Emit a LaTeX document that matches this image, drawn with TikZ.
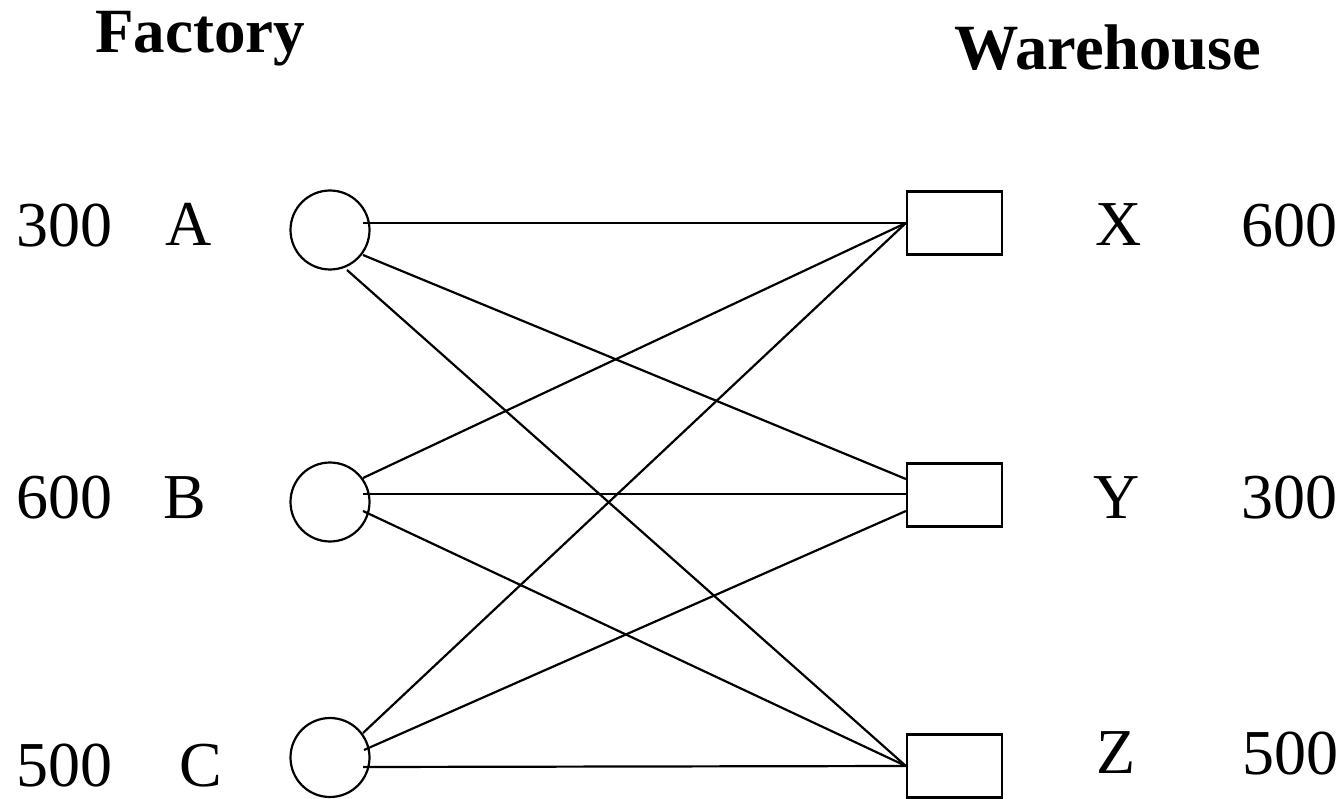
\documentclass[tikz,border=0pt]{standalone}
\usepackage{fontspec}
\setmainfont{Liberation Serif}
\usetikzlibrary{calc}
\begin{document}
\begin{tikzpicture}[x=1pt,y=-1pt,line width=2.2pt,
  fac/.style={circle,draw,minimum size=79pt,inner sep=0pt},
  wh/.style={rectangle,draw,minimum width=95pt,minimum height=63pt,inner sep=0pt},
  lab/.style={anchor=base,font=\fontsize{64}{64}\selectfont,inner sep=0pt},
  labw/.style={lab,anchor=base west},
  head/.style={anchor=base,font=\fontsize{63}{63}\selectfont\bfseries,inner sep=0pt}]
\useasboundingbox (0,0) rectangle (1343,799);
% headings
\node[head] (hf) at (200,53) {Factory};
\node[head,font=\fontsize{64.5}{64.5}\selectfont\bfseries] (hw) at (1108,70) {Warehouse};
% factories
\node[fac] (A) at (330,230) {};
\node[fac] (B) at (330,502) {};
\node[fac] (C) at (330,757.5) {};
% warehouses
\node[wh] (X) at (954.5,223) {};
\node[wh] (Y) at (954.5,495) {};
\node[wh] (Z) at (954.5,766) {};
% labels
\node[labw] (sa) at (15,247) {300};
\node[lab] (la) at (188.5,246) {A};
\node[labw] (sb) at (15,518) {600};
\node[lab] (lb) at (185,518) {B};
\node[labw,text depth=0pt] (sc) at (15,786) {500};
\node[lab,text depth=0pt] (lc) at (201,786) {C};
\node[lab] (lx) at (1118.5,246) {X};
\node[labw] (dx) at (1240,247) {600};
\node[lab] (ly) at (1117,518) {Y};
\node[labw] (dy) at (1240,518) {300};
\node[lab] (lz) at (1116.5,773) {Z};
\node[labw] (dz) at (1241,774) {500};
% connection points
\coordinate (aX) at ($(A.center)+(33,-7)$);
\coordinate (aY) at ($(A.center)+(33,25)$);
\coordinate (aZ) at ($(A.center)+(17,40)$);
\coordinate (bX) at ($(B.center)+(33,-24)$);
\coordinate (bY) at ($(B.center)+(33,-8)$);
\coordinate (bZ) at ($(B.center)+(33,9)$);
\coordinate (cX) at ($(C.center)+(33,-24.5)$);
\coordinate (cY) at ($(C.center)+(34,-7.5)$);
\coordinate (cZ) at ($(C.center)+(33,9.5)$);
\coordinate (yA) at ($(Y.west)+(0,-16)$);
\coordinate (yB) at ($(Y.west)+(0,-1)$);
\coordinate (yC) at ($(Y.west)+(0,16)$);
% connectors
\draw (aX) -- (X.west);
\draw (aY) -- (yA);
\draw (aZ) -- (Z.west);
\draw (bX) -- (X.west);
\draw (bY) -- (yB);
\draw (bZ) -- (Z.west);
\draw (cX) -- (X.west);
\draw (cY) -- (yC);
\draw (cZ) -- (Z.west);
\end{tikzpicture}
\end{document}
